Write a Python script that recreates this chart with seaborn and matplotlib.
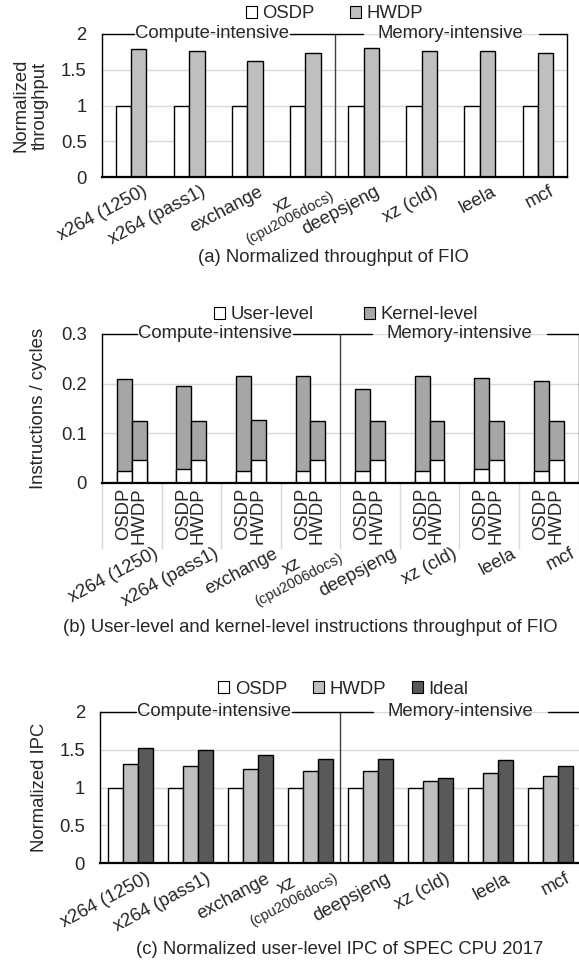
import numpy as np
import pandas as pd
import matplotlib
matplotlib.use("Agg")
import matplotlib.pyplot as plt
import matplotlib.transforms as mtransforms
from matplotlib.patches import Patch
import seaborn as sns

sns.set_style("white")
plt.rcParams["font.family"] = ["Liberation Sans", "DejaVu Sans"]
FS = 13.3
plt.rcParams["font.size"] = FS

# data
benchmarks = ["x264 (1250)", "x264 (pass1)", "exchange", "xz",
              "deepsjeng", "xz (cld)", "leela", "mcf"]
xz_sub = "(cpu2006docs)"

# (a) FIO throughput
fio_osdp = [1, 1, 1, 1, 1, 1, 1, 1]
fio_hwdp = [1.79, 1.76, 1.62, 1.74, 1.81, 1.76, 1.76, 1.74]

# (b) instructions / cycles (stacked: user at bottom, total height)
osdp_user = [0.024, 0.028, 0.024, 0.024, 0.024, 0.024, 0.028, 0.024]
osdp_total = [0.209, 0.195, 0.216, 0.216, 0.189, 0.216, 0.212, 0.206]
hwdp_user = [0.045, 0.045, 0.045, 0.045, 0.045, 0.045, 0.045, 0.045]
hwdp_total = [0.124, 0.124, 0.127, 0.124, 0.124, 0.124, 0.124, 0.124]

# (c) user-level IPC
ipc_osdp = [1, 1, 1, 1, 1, 1, 1, 1]
ipc_hwdp = [1.31, 1.29, 1.25, 1.22, 1.22, 1.09, 1.20, 1.15]
ipc_ideal = [1.52, 1.50, 1.43, 1.38, 1.38, 1.13, 1.36, 1.29]

WHITE = "#ffffff"
LIGHT = "#bfbfbf"
KERNEL = "#a6a6a6"
DARK = "#595959"
ANGLE = 28

W, H = 579, 964
fig = plt.figure(figsize=(W / 100, H / 100), dpi=100)


def px_axes(left, top, right, bottom):
    return fig.add_axes([left / W, 1 - bottom / H, (right - left) / W, (bottom - top) / H])


def long_df(series):
    rows = []
    for cfg, vals in series.items():
        for b, v in zip(benchmarks, vals):
            rows.append((b, cfg, v))
    return pd.DataFrame(rows, columns=["bench", "config", "value"])


def bars(ax, series, colors, width):
    df = long_df(series)
    sns.barplot(data=df, x="bench", y="value", hue="config", order=benchmarks,
                hue_order=list(series.keys()), palette=dict(zip(series.keys(), colors)),
                edgecolor="black", linewidth=1, width=width, errorbar=None,
                legend=False, ax=ax)


def style(ax, yticks, right_spine=True):
    ax.set_xlim(-0.5, 7.5)
    ax.set_ylim(0, yticks[-1])
    ax.set_yticks(yticks)
    ax.set_yticklabels([f"{t:g}" for t in yticks])
    ax.tick_params(axis="y", length=0, pad=11, labelsize=FS)
    ax.tick_params(axis="x", length=0, labelbottom=False)
    ax.set_xlabel("")
    ax.yaxis.grid(True, color="#d9d9d9", lw=1)
    ax.set_axisbelow(True)
    for s in ["left", "bottom", "right"]:
        ax.spines[s].set_color("black")
        ax.spines[s].set_linewidth(1)
    ax.spines["bottom"].set_linewidth(1.6)
    ax.spines["top"].set_visible(False)
    ax.spines["right"].set_visible(right_spine)
    ax.axvline(3.5, color="#404040", lw=1)


def bench_labels(ax, dx, dy, xz_dx, xz_dy):
    base = ax.get_xaxis_transform()
    for i, name in enumerate(benchmarks):
        if name == "xz":
            tr = mtransforms.offset_copy(base, fig=fig, x=xz_dx, y=xz_dy, units="dots")
            ax.text(i, 0, "xz", transform=tr, rotation=ANGLE, rotation_mode="anchor",
                    ha="center", va="bottom", fontsize=FS)
            ax.text(i, 0, xz_sub, transform=tr, rotation=ANGLE, rotation_mode="anchor",
                    ha="center", va="top", fontsize=10.5)
        else:
            tr = mtransforms.offset_copy(base, fig=fig, x=dx, y=dy, units="dots")
            ax.text(i, 0, name, transform=tr, rotation=ANGLE, rotation_mode="anchor",
                    ha="right", va="top", fontsize=FS)


def legend(ax, labels, colors, x, y, spacing):
    handles = [Patch(facecolor=c, edgecolor="black", linewidth=0.8, label=l)
               for l, c in zip(labels, colors)]
    ax.legend(handles=handles, loc="center", bbox_to_anchor=(x, y), ncol=len(labels),
              frameon=False, handlelength=0.6, handleheight=0.6, handletextpad=0.3,
              columnspacing=spacing, fontsize=FS, borderaxespad=0, borderpad=0)


def header(ax, top):
    tc = ax.text(1.4, top, "Compute-intensive", ha="center", va="center", fontsize=FS)
    tm = ax.text(5.5, top, "Memory-intensive", ha="center", va="center", fontsize=FS)
    return tc, tm


# ---- (a)
ax_a = px_axes(102, 34, 567, 177)
bars(ax_a, {"OSDP": fio_osdp, "HWDP": fio_hwdp}, [WHITE, LIGHT], 0.53)
style(ax_a, [0, 0.5, 1, 1.5, 2])
ax_a.set_ylabel("Normalized\nthroughput", fontsize=FS, va="center", linespacing=1.15)
ax_a.yaxis.set_label_coords(-0.153, 0.5)
bench_labels(ax_a, 11, -6, -19, -35)
legend(ax_a, ["OSDP", "HWDP"], [WHITE, LIGHT], 0.5, 1.14, 1.9)
hdr_a = header(ax_a, 2)

# ---- (b)
ax_b = px_axes(102, 334, 578.5, 482.7)
bars(ax_b, {"OSDP": osdp_total, "HWDP": hwdp_total}, [KERNEL, KERNEL], 0.5)
bars(ax_b, {"OSDP": osdp_user, "HWDP": hwdp_user}, [WHITE, WHITE], 0.5)
style(ax_b, [0, 0.1, 0.2, 0.3])
ax_b.set_ylabel("Instructions / cycles", fontsize=FS, va="center")
ax_b.yaxis.set_label_coords(-0.133, 0.5)
tr_b = mtransforms.offset_copy(ax_b.get_xaxis_transform(), fig=fig, y=-5, units="dots")
for i in range(len(benchmarks)):
    ax_b.text(i - 0.135, 0, "OSDP", rotation=90, ha="center", va="top", transform=tr_b, fontsize=FS)
    ax_b.text(i + 0.115, 0, "HWDP", rotation=90, ha="center", va="top", transform=tr_b, fontsize=FS)
ax_b.vlines(np.arange(-0.5, 8, 1), -66 / 148.7, 0, transform=ax_b.get_xaxis_transform(),
            colors="#d9d9d9", lw=1, clip_on=False)
bench_labels(ax_b, 21.7, -62.3, -14.5, -91)
legend(ax_b, ["User-level", "Kernel-level"], [WHITE, KERNEL], 0.512, 1.128, 2.7)
hdr_b = header(ax_b, 0.3)

# ---- (c)
ax_c = px_axes(100.4, 712, 580.4, 863.3)
bars(ax_c, {"OSDP": ipc_osdp, "HWDP": ipc_hwdp, "Ideal": ipc_ideal},
     [WHITE, LIGHT, DARK], 0.755)
style(ax_c, [0, 0.5, 1, 1.5, 2], right_spine=False)
ax_c.set_ylabel("Normalized IPC", fontsize=FS, va="center")
ax_c.yaxis.set_label_coords(-0.126, 0.5)
bench_labels(ax_c, 14.6, -6.7, -20, -30)
legend(ax_c, ["OSDP", "HWDP", "Ideal"], [WHITE, LIGHT, DARK], 0.506, 1.152, 1.4)
hdr_c = header(ax_c, 2)

# captions
fig.text(333 / W, 1 - 258 / H, "(a) Normalized throughput of FIO", ha="center", va="center", fontsize=FS)
fig.text(310 / W, 1 - 628 / H, "(b) User-level and kernel-level instructions throughput of FIO",
         ha="center", va="center", fontsize=FS)
fig.text(340 / W, 1 - 950 / H, "(c) Normalized user-level IPC of SPEC CPU 2017",
         ha="center", va="center", fontsize=FS)

# top bracket line, broken around the group headers
fig.canvas.draw()
renderer = fig.canvas.get_renderer()
for ax, (tc, tm), top in [(ax_a, hdr_a, 2), (ax_b, hdr_b, 0.3), (ax_c, hdr_c, 2)]:
    inv = ax.transData.inverted()
    bc = tc.get_window_extent(renderer)
    bm = tm.get_window_extent(renderer)

    def to_x(px):
        return inv.transform((px, 0))[0]

    segs = [(-0.5, to_x(bc.x0 - 1)), (to_x(bc.x1 + 1), to_x(bm.x0 - 15)),
            (to_x(bm.x1 + 15), 7.5)]
    for a, b in segs:
        ax.plot([a, b], [top, top], color="black", lw=1, clip_on=False)

fig.savefig("out.png", dpi=100)
